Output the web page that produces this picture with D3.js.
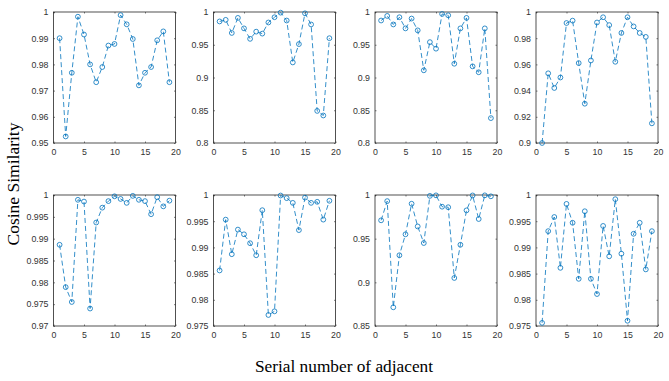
<!DOCTYPE html>
<html><head><meta charset="utf-8">
<script src="https://cdn.jsdelivr.net/npm/d3@7"></script>
<style>body{margin:0;background:#fff}svg{display:block}</style>
</head><body><svg id="c" width="669" height="381"></svg>
<script>
const xs = d3.range(1, 20);
const xTicks = [0, 5, 10, 15, 20];
const s1 = [0.990,0.9525,0.9768,0.9982,0.9914,0.980,0.9732,0.979,0.9872,0.9878,0.9988,0.9953,0.9897,0.972,0.9768,0.979,0.9892,0.9926,0.9732];
const s2 = [0.9856,0.988,0.968,0.991,0.975,0.959,0.970,0.967,0.984,0.992,0.999,0.987,0.923,0.951,0.998,0.981,0.849,0.842,0.960];
const s3 = [0.987,0.994,0.981,0.992,0.975,0.990,0.972,0.911,0.954,0.944,0.997,0.995,0.921,0.975,0.991,0.917,0.908,0.975,0.838];
const s4 = [0.900,0.9532,0.942,0.950,0.9916,0.9934,0.961,0.930,0.963,0.992,0.996,0.990,0.962,0.984,0.996,0.989,0.984,0.981,0.915];
const s5 = [0.9886,0.9789,0.9755,0.9989,0.9985,0.974,0.9937,0.9971,0.9986,0.9997,0.9991,0.9982,0.9998,0.9989,0.9986,0.9956,0.9995,0.9974,0.9987];
const s6 = [0.9856,0.9953,0.9887,0.9934,0.9925,0.9908,0.9885,0.9971,0.9771,0.9778,0.9999,0.9994,0.9985,0.9933,0.9995,0.9985,0.9987,0.9953,0.9989];
const s7 = [0.971,0.993,0.8714,0.931,0.955,0.990,0.964,0.945,0.999,0.9996,0.9866,0.986,0.905,0.943,0.9824,0.9995,0.9725,0.9996,0.9985];
const s8 = [0.9756,0.9931,0.9958,0.9861,0.9983,0.9947,0.9840,0.9969,0.9840,0.9811,0.9941,0.9883,0.9992,0.9888,0.9760,0.9926,0.9947,0.9858,0.9931];
const yTicks1 = [0.95,0.96,0.97,0.98,0.99,1];
const yTicks2 = [0.8,0.85,0.9,0.95,1];
const yTicks3 = [0.8,0.85,0.9,0.95,1];
const yTicks4 = [0.9,0.92,0.94,0.96,0.98,1];
const yTicks5 = [0.97,0.975,0.98,0.985,0.99,0.995,1];
const yTicks6 = [0.975,0.98,0.985,0.99,0.995,1];
const yTicks7 = [0.85,0.9,0.95,1];
const yTicks8 = [0.975,0.98,0.985,0.99,0.995,1];
const yLabel = "Cosine Similarity";
const xLabel = "Serial number of adjacent";

const series = [s1,s2,s3,s4,s5,s6,s7,s8];
const yTickSets = [yTicks1,yTicks2,yTicks3,yTicks4,yTicks5,yTicks6,yTicks7,yTicks8];

const svg = d3.select("#c");
const lefts = [53.5, 213.5, 375, 536];
const tops = [12, 195];
const W = 122, H = 131;
const blue = "#0072BD", axc = "#262626";
const fmt = d => String(+d.toFixed(4));

series.forEach((vals, i) => {
  const ticks = yTickSets[i];
  const x0 = lefts[i % 4], y0 = tops[Math.floor(i / 4)];
  const g = svg.append("g").attr("transform", `translate(${x0},${y0})`);
  const x = d3.scaleLinear().domain([0, 20]).range([0, W]);
  const y = d3.scaleLinear().domain([ticks[0], ticks[ticks.length - 1]]).range([H, 0]);

  g.append("g").attr("transform", `translate(0,${H})`)
    .call(d3.axisBottom(x).tickValues(xTicks).tickFormat(fmt).tickSizeInner(-1.5).tickSizeOuter(0).tickPadding(6));
  g.append("g")
    .call(d3.axisLeft(y).tickValues(ticks).tickFormat(fmt).tickSizeInner(-1.5).tickSizeOuter(0).tickPadding(5));
  g.append("g")
    .call(d3.axisTop(x).tickValues(xTicks).tickFormat("").tickSizeInner(-1.5).tickSizeOuter(0));
  g.append("g").attr("transform", `translate(${W},0)`)
    .call(d3.axisRight(y).tickValues(ticks).tickFormat("").tickSizeInner(-1.5).tickSizeOuter(0));
  g.selectAll(".domain").remove();
  g.selectAll(".tick line").attr("stroke", axc).attr("stroke-width", 0.6);
  g.selectAll(".tick text").attr("fill", "#333").style("font-family", "'Liberation Sans', Arial, sans-serif").style("font-size", "8.8px");
  g.append("rect").attr("width", W).attr("height", H)
    .attr("fill", "none").attr("stroke", axc).attr("stroke-width", 0.8);

  const pts = xs.map((xv, k) => [xv, vals[k]]);
  g.append("path").datum(pts)
    .attr("d", d3.line().x(d => x(d[0])).y(d => y(d[1])))
    .attr("fill", "none").attr("stroke", blue).attr("stroke-width", 0.8)
    .attr("stroke-dasharray", "5,3");
  g.selectAll("circle.m").data(pts).enter().append("circle")
    .attr("cx", d => x(d[0])).attr("cy", d => y(d[1])).attr("r", 2.4)
    .attr("fill", "none").attr("stroke", blue).attr("stroke-width", 0.8);
});

svg.append("text").attr("transform", "translate(19,184) rotate(-90)")
  .attr("text-anchor", "middle").style("font-family", "'Liberation Serif', 'Times New Roman', serif")
  .style("font-size", "17.5px").attr("fill", "#000").text(yLabel);
svg.append("text").attr("x", 344).attr("y", 372)
  .attr("text-anchor", "middle").style("font-family", "'Liberation Serif', 'Times New Roman', serif")
  .style("font-size", "17.3px").attr("fill", "#000").text(xLabel);
</script></body></html>
